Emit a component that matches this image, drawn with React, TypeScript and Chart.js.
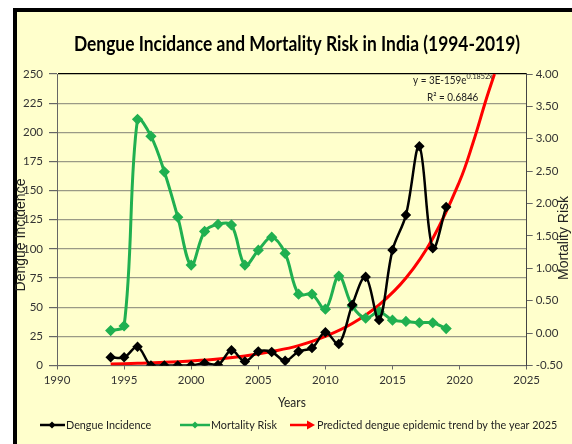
import React, { useEffect, useRef } from "react";
import { Chart, registerables } from "chart.js";
Chart.register(...registerables);

const years = [1994, 1995, 1996, 1997, 1998, 1999, 2000, 2001, 2002, 2003, 2004, 2005, 2006, 2007, 2008, 2009, 2010, 2011, 2012, 2013, 2014, 2015, 2016, 2017, 2018, 2019];
const dengueIncidence = [7, 7, 16, 0, 0, 0, 0, 2, 0.5, 13, 3.5, 12, 11.6, 4, 12, 15, 28.5, 18.5, 52, 76, 39, 99, 129, 188, 100.5, 136];
const mortalityRisk = [0.04, 0.11, 3.3, 3.04, 2.49, 1.79, 1.05, 1.57, 1.68, 1.67, 1.05, 1.28, 1.48, 1.23, 0.6, 0.6, 0.37, 0.88, 0.42, 0.23, 0.33, 0.2, 0.18, 0.16, 0.16, 0.07];
const trendYears = [1994, 1996, 1998, 2000, 2002, 2004, 2006, 2008, 2010, 2012, 2014, 2016, 2018, 2020, 2021, 2022, 2022.6];
const trendValues = [1.3, 1.9, 2.7, 3.9, 5.6, 8.2, 12, 17, 25, 36, 52, 75, 109, 158, 191, 229, 250];

const TITLE = "Dengue Incidance and Mortality Risk in India (1994-2019)";
const LEFT_TITLE = "Dengue Incidence";
const RIGHT_TITLE = "Mortality Risk";
const X_TITLE = "Years";
const LEGEND = ["Dengue Incidence", "Mortality Risk", "Predicted dengue epidemic trend by the year 2025"];
const EQ_MAIN = "y = 3E-159e";
const EQ_SUP = "0.1852x";
const R2 = "R\u00B2 = 0.6846";

const BG = "#FFFFCC";
const GREEN = "#20B050";
const RED = "#FF0000";
const FONT = "Lato, 'Liberation Sans', sans-serif";

function text(ctx: any, s: string, x: number, y: number, font: string, align: string, sx: number, color: string) {
  ctx.save();
  ctx.font = font;
  ctx.fillStyle = color;
  ctx.textBaseline = "middle";
  ctx.textAlign = align;
  ctx.translate(x, y);
  ctx.scale(sx, 1);
  ctx.fillText(s, 0, 0);
  const w = ctx.measureText(s).width * sx;
  ctx.restore();
  return w;
}

const decor = {
  id: "decor",
  beforeDraw(chart: any) {
    const { ctx, width, height } = chart;
    ctx.save();
    ctx.fillStyle = "#fff";
    ctx.fillRect(0, 0, width, height);
    ctx.fillStyle = BG;
    ctx.fillRect(13, 8, width - 13, height - 8);
    ctx.fillStyle = "#000";
    ctx.fillRect(13, 8, width - 13, 4);
    ctx.fillRect(13, 8, 4, height - 8);
    ctx.restore();
  },
  afterDraw(chart: any) {
    const { ctx, chartArea } = chart;
    ctx.save();
    text(ctx, TITLE, 297, 45, `bold 20px ${FONT}`, "center", 0.87, "#000");
    text(ctx, X_TITLE, (chartArea.left + chartArea.right) / 2, 403, `13px ${FONT}`, "center", 0.92, "#222");
    // axis titles
    ctx.font = `14px 'Liberation Sans', Arial, sans-serif`;
    ctx.fillStyle = "#222";
    ctx.textAlign = "center";
    ctx.textBaseline = "middle";
    ctx.save();
    ctx.translate(21, 235);
    ctx.rotate(-Math.PI / 2);
    ctx.fillText(LEFT_TITLE, 0, 0);
    ctx.restore();
    ctx.save();
    ctx.translate(564, 238);
    ctx.rotate(-Math.PI / 2);
    ctx.fillText(RIGHT_TITLE, 0, 0);
    ctx.restore();
    // equation
    const w = text(ctx, EQ_MAIN, 413, 80, `11px ${FONT}`, "left", 0.9, "#222");
    text(ctx, EQ_SUP, 413 + w, 76, `8px ${FONT}`, "left", 0.9, "#222");
    text(ctx, R2, 427, 97, `11px ${FONT}`, "left", 0.9, "#222");
    // legend
    const ly = 425;
    ctx.lineWidth = 2.5;
    const diamond = (x: number, c: string) => {
      ctx.fillStyle = c;
      ctx.beginPath();
      ctx.moveTo(x, ly - 3.5);
      ctx.lineTo(x + 3.5, ly);
      ctx.lineTo(x, ly + 3.5);
      ctx.lineTo(x - 3.5, ly);
      ctx.closePath();
      ctx.fill();
    };
    ctx.strokeStyle = "#000";
    ctx.beginPath();
    ctx.moveTo(40, ly);
    ctx.lineTo(65, ly);
    ctx.stroke();
    diamond(52, "#000");
    text(ctx, LEGEND[0], 66, ly, `12px ${FONT}`, "left", 0.9, "#222");
    ctx.strokeStyle = GREEN;
    ctx.beginPath();
    ctx.moveTo(180, ly);
    ctx.lineTo(210, ly);
    ctx.stroke();
    diamond(195, GREEN);
    text(ctx, LEGEND[1], 211, ly, `12px ${FONT}`, "left", 0.9, "#222");
    ctx.strokeStyle = RED;
    ctx.beginPath();
    ctx.moveTo(290, ly);
    ctx.lineTo(309, ly);
    ctx.stroke();
    ctx.fillStyle = RED;
    ctx.beginPath();
    ctx.moveTo(315, ly);
    ctx.lineTo(307, ly - 4.5);
    ctx.lineTo(307, ly + 4.5);
    ctx.closePath();
    ctx.fill();
    text(ctx, LEGEND[2], 317, ly, `12px ${FONT}`, "left", 0.9, "#222");
    ctx.restore();
  },
};

export default function App() {
  const ref = useRef<HTMLCanvasElement>(null);
  useEffect(() => {
    const chart = new Chart(ref.current!, {
      type: "line",
      data: {
        datasets: [
          {
            label: LEGEND[0],
            data: years.map((y, i) => ({ x: y, y: dengueIncidence[i] })),
            borderColor: "#000",
            backgroundColor: "#000",
            borderWidth: 2.5,
            pointStyle: "rectRot",
            pointRadius: 3.5,
            tension: 0.35,
            yAxisID: "y",
          },
          {
            label: LEGEND[1],
            data: years.map((y, i) => ({ x: y, y: mortalityRisk[i] })),
            borderColor: GREEN,
            backgroundColor: GREEN,
            borderWidth: 3,
            pointStyle: "rectRot",
            pointRadius: 3.5,
            tension: 0.35,
            yAxisID: "y1",
          },
          {
            label: LEGEND[2],
            data: trendYears.map((y, i) => ({ x: y, y: trendValues[i] })),
            borderColor: RED,
            borderWidth: 3,
            pointRadius: 0,
            tension: 0.4,
            yAxisID: "y",
          },
        ],
      },
      options: {
        responsive: false,
        animation: false,
        layout: { padding: { top: 74, left: 0, right: 0, bottom: 0 } },
        plugins: { legend: { display: false }, title: { display: false }, tooltip: { enabled: false } },
        scales: {
          x: {
            type: "linear",
            min: 1990,
            max: 2025,
            afterFit: (s: any) => { s.height = 78.5; },
            ticks: { stepSize: 5, color: "#333", font: { family: FONT, size: 11.5 }, padding: 4, callback: (v: any) => String(v) },
            grid: { drawOnChartArea: false, drawTicks: true, tickLength: 4, color: "#666" },
            border: { color: "#666", width: 1 },
          },
          y: {
            position: "left",
            min: 0,
            max: 250,
            afterFit: (s: any) => { s.width = 57; },
            ticks: { stepSize: 25, color: "#333", font: { family: FONT, size: 11.5 }, padding: 6 },
            grid: { color: (c: any) => (c.tick && c.tick.value === 250 ? "#000" : "#9a9a86"), lineWidth: 1.2, tickLength: 8, tickColor: "#666" },
            border: { color: "#666", width: 1 },
          },
          y1: {
            position: "right",
            min: -0.5,
            max: 4,
            afterFit: (s: any) => { s.width = 45.3; },
            ticks: { stepSize: 0.5, color: "#333", font: { family: FONT, size: 11.5 }, padding: 3, callback: (v: any) => Number(v).toFixed(2) },
            grid: { drawOnChartArea: false, tickLength: 6, color: "#666" },
            border: { color: "#444", width: 1 },
          },
        },
      },
      plugins: [decor],
    });
    return () => chart.destroy();
  }, []);
  return (
    <div style={{ position: "fixed", left: 0, top: 0, width: 572, height: 444 }}>
      <canvas ref={ref} width={572} height={444} style={{ display: "block", width: 572, height: 444 }} />
    </div>
  );
}
